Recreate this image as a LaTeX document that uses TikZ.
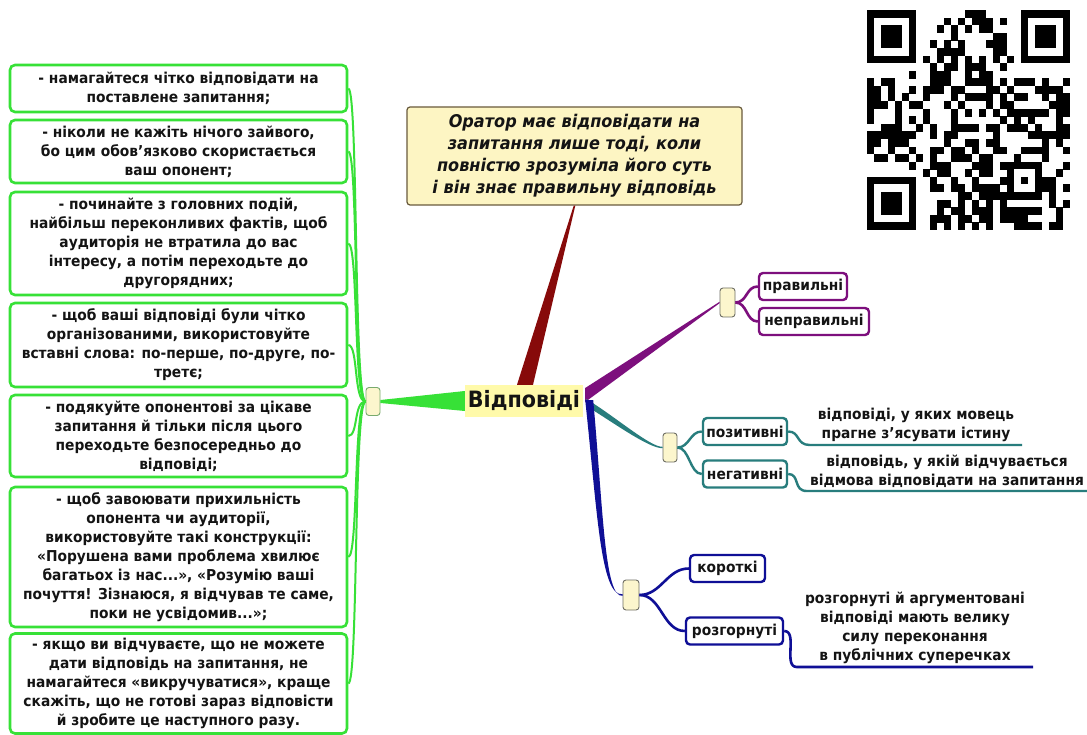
\documentclass[tikz,border=0pt]{standalone}
\usepackage{fontspec}
\setmainfont{DejaVu Sans}[FakeStretch=0.92]
\usetikzlibrary{calc}
\definecolor{cgreen}{RGB}{55,225,55}
\definecolor{cpurple}{RGB}{125,15,125}
\definecolor{cteal}{RGB}{40,125,125}
\definecolor{cblue}{RGB}{15,15,150}
\definecolor{cred}{RGB}{135,10,10}
\definecolor{knotfill}{RGB}{252,246,205}
\definecolor{callfill}{RGB}{253,245,195}
\definecolor{calldraw}{RGB}{105,90,60}
\definecolor{centerfill}{RGB}{255,250,170}
\definecolor{gknotdraw}{RGB}{120,170,110}
\definecolor{knotdraw}{RGB}{110,110,100}
\definecolor{txt}{RGB}{20,20,20}
\tikzset{
  leftbox/.style={draw=cgreen, line width=2.6pt, rounded corners=5pt, fill=white,
    minimum width=337pt, align=center, inner sep=0pt, text=txt,
    font=\bfseries\fontsize{15}{19}\selectfont},
  knot/.style={draw=#1, line width=0.9pt, fill=knotfill, rounded corners=3pt,
    minimum width=14pt, minimum height=28pt, inner sep=0pt},
  cbox/.style={draw=#1, line width=2.4pt, rounded corners=4pt, fill=white,
    inner sep=0pt, minimum height=27pt, text=txt,
    font=\bfseries\fontsize{15}{17}\selectfont},
  desc/.style={align=center, inner xsep=0pt, inner ysep=3pt, anchor=south, text=txt,
    font=\bfseries\fontsize{15}{19}\selectfont},
  gline/.style={draw=cgreen, line width=2pt},
  pline/.style={draw=cpurple, line width=2.6pt},
  tline/.style={draw=cteal, line width=2.4pt},
  bline/.style={draw=cblue, line width=2.6pt},
}
\begin{document}
\begin{tikzpicture}[x=1pt,y=-1pt]
\useasboundingbox (0,0) rectangle (1087,735);
\fill[white] (0,0) rectangle (1087,735);

% ---------- QR code ----------
\begin{scope}
\def\mw{7}
\def\mh{7.586}
\pgfmathsetseed{4242}
\foreach \i in {0,...,28}{
  \foreach \j in {0,...,28}{
    \pgfmathtruncatemacro\v{((\i<9 && \j<9) || (\i>19 && \j<9) || (\i<9 && \j>19) || \i==6 || \j==6 || (\i>19 && \i<25 && \j>19 && \j<25)) ? 0 : (rnd<0.5 ? 1 : 0)}
    \ifnum\v=1 \fill[black] (867+\i*\mw, 10+\j*\mh) rectangle ++(\mw+0.3,\mh+0.3);\fi
  }
}
\foreach \fx/\fy in {0/0, 22/0, 0/22}{
  \fill[black] (867+\fx*\mw, 10+\fy*\mh) rectangle ++(7*\mw, 7*\mh);
  \fill[white] (867+\fx*\mw+\mw, 10+\fy*\mh+\mh) rectangle ++(5*\mw, 5*\mh);
  \fill[black] (867+\fx*\mw+2*\mw, 10+\fy*\mh+2*\mh) rectangle ++(3*\mw, 3*\mh);
}
\foreach \k in {8,10,...,20}{
  \fill[black] (867+\k*\mw, 10+6*\mh) rectangle ++(\mw+0.3, \mh);
  \fill[black] (867+6*\mw, 10+\k*\mh) rectangle ++(\mw, \mh+0.3);
}
\fill[black] (867+20*\mw, 10+20*\mh) rectangle ++(5*\mw, 5*\mh);
\fill[white] (867+21*\mw, 10+21*\mh) rectangle ++(3*\mw, 3*\mh);
\fill[black] (867+22*\mw, 10+22*\mh) rectangle ++(\mw, \mh);
\fill[black] (867+8*\mw, 10+21*\mh) rectangle ++(\mw, \mh);
\end{scope}

% ---------- nodes ----------
\node[fill=centerfill, inner sep=0pt, minimum width=118pt, minimum height=32pt,
      text=txt, font=\bfseries\fontsize{22.5}{26}\selectfont] (c) at (524,401) {Відповіді};

\node[draw=calldraw, line width=1.2pt, fill=callfill,
      rounded corners=3pt, minimum width=335pt, minimum height=98pt, inner sep=0pt,
      align=center, text=txt, font=\bfseries\itshape\fontsize{17.5}{22}\selectfont]
      (call) at (574.5,156) {Оратор має відповідати на\\запитання лише тоді, коли\\повністю зрозуміла його суть\\і він знає правильну відповідь};

% left boxes
\node[leftbox, minimum height=47pt] (b1) at (178.5,88.5) {- намагайтеся чітко відповідати на\\поставлене запитання;};
\node[leftbox, minimum height=63pt] (b2) at (178.5,151.5) {- ніколи не кажіть нічого зайвого,\\бо цим обов’язково скористається\\ваш опонент;};
\node[leftbox, minimum height=103pt] (b3) at (178.5,243.5) {- починайте з головних подій,\\найбільш переконливих фактів, щоб\\аудиторія не втратила до вас\\інтересу, а потім переходьте до\\другорядних;};
\node[leftbox, minimum height=84pt] (b4) at (178.5,345) {- щоб ваші відповіді були чітко\\організованими, використовуйте\\вставні слова: по-перше, по-друге, по-\\третє;};
\node[leftbox, minimum height=82pt] (b5) at (178.5,436) {- подякуйте опонентові за цікаве\\запитання й тільки після цього\\переходьте безпосередньо до\\відповіді;};
\node[leftbox, minimum height=140pt] (b6) at (178.5,557) {- щоб завоювати прихильність\\опонента чи аудиторії,\\використовуйте такі конструкції:\\«Порушена вами проблема хвилює\\багатьох із нас...», «Розумію ваші\\почуття! Зізнаюся, я відчував те саме,\\поки не усвідомив...»;};
\node[leftbox, minimum height=100pt] (b7) at (178.5,683.5) {- якщо ви відчуваєте, що не можете\\дати відповідь на запитання, не\\намагайтеся «викручуватися», краще\\скажіть, що не готові зараз відповісти\\й зробите це наступного разу.};

% knots
\node[knot=gknotdraw] (gk) at (373,401.5) {};
\node[knot=knotdraw, minimum width=15pt, minimum height=29pt] (pk) at (727.5,302.5) {};
\node[knot=knotdraw, minimum height=29pt] (tk) at (670,447.5) {};
\node[knot=knotdraw, minimum width=16pt, minimum height=30pt] (bk) at (631,595) {};

% child boxes
\node[cbox=cpurple, minimum width=88pt] (pr) at (803,286.5) {правильні};
\node[cbox=cpurple, minimum width=110pt] (np) at (814,321.5) {неправильні};
\node[cbox=cteal, minimum width=84pt] (poz) at (745,431.5) {позитивні};
\node[cbox=cteal, minimum width=84pt] (neg) at (745,474) {негативні};
\node[cbox=cblue, minimum width=75pt] (kor) at (727.5,568.5) {короткі};
\node[cbox=cblue, minimum width=97pt] (roz) at (734.5,631) {розгорнуті};

% descriptions
\node[desc, minimum width=212pt] (d1) at (916,445) {відповіді, у яких мовець\\прагне з’ясувати істину};
\node[desc, minimum width=280pt] (d2) at (947,491) {відповідь, у якій відчувається\\відмова відповідати на запитання};
\node[desc, minimum width=236pt] (d3) at (915,667) {розгорнуті й аргументовані\\відповіді мають велику\\силу переконання\\в публічних суперечках};

% ---------- tapered main edges ----------
\fill[cred] ($(c.north)+(-7,0)$) -- ($(call.south)+(-0.8,0)$) -- ($(call.south)+(0.8,0)$) -- ($(c.north)+(9,0)$) -- cycle;
\fill[cgreen] ($(c.west)+(0,-10)$) -- ($(gk.east)+(0,-1.5)$) -- ($(gk.east)+(0,1.5)$) -- ($(c.west)+(0,10)$) -- cycle;
\fill[cpurple] ($(c.east)+(2,-13)$) -- ($(pk.west)+(0,-0.7)$) -- ($(pk.west)+(0,0.7)$) -- ($(c.east)+(2,1)$) -- cycle;
\fill[cteal] ($(c.east)+(3,-2)$) .. controls ($(c.east)+(30,14)$) and ($(tk.west)+(-12,0)$) .. ($(tk.west)+(0,-0.7)$)
   -- ($(tk.west)+(0,0.7)$) .. controls ($(tk.west)+(-14,1)$) and ($(c.east)+(28,20)$) .. ($(c.east)+(3,5)$) -- cycle;
\fill[cblue] ($(c.east)+(2,-1)$) .. controls ($(c.east)+(14,110)$) and ($(bk.west)+(-22,2)$) .. ($(bk.west)+(0,-0.8)$)
   -- ($(bk.west)+(0,0.8)$) .. controls ($(bk.west)+(-18,3)$) and ($(c.east)+(20,110)$) .. ($(c.east)+(10,-1)$) -- cycle;

% ---------- green connectors ----------
\foreach \b in {b1,b2,b3,b4,b5,b6,b7}{
  \draw[gline] (gk.west) .. controls ($(gk.west)+(-12,0)$) and ($(\b.east)+(10,0)$) .. (\b.east);
}

% ---------- child connectors ----------
\foreach \b in {pr,np}{
  \draw[pline] (pk.east) .. controls ($(pk.east)+(12,0)$) and ($(\b.west)+(-12,0)$) .. (\b.west);
}
\foreach \b in {poz,neg}{
  \draw[tline] (tk.east) .. controls ($(tk.east)+(12,0)$) and ($(\b.west)+(-12,0)$) .. (\b.west);
}
\foreach \b in {kor,roz}{
  \draw[bline] (bk.east) .. controls ($(bk.east)+(22,0)$) and ($(\b.west)+(-22,0)$) .. (\b.west);
}

% ---------- underlines ----------
\draw[tline] (poz.east) .. controls ($(poz.east)+(12,0)$) and ($(d1.south west)+(-14,0)$) .. (d1.south west) -- (d1.south east);
\draw[tline] (neg.east) .. controls ($(neg.east)+(12,0)$) and ($(d2.south west)+(-14,0)$) .. (d2.south west) -- (d2.south east);
\draw[bline] (roz.east) .. controls ($(roz.east)+(14,0)$) and ($(d3.south west)+(-14,0)$) .. (d3.south west) -- (d3.south east);
\end{tikzpicture}
\end{document}
